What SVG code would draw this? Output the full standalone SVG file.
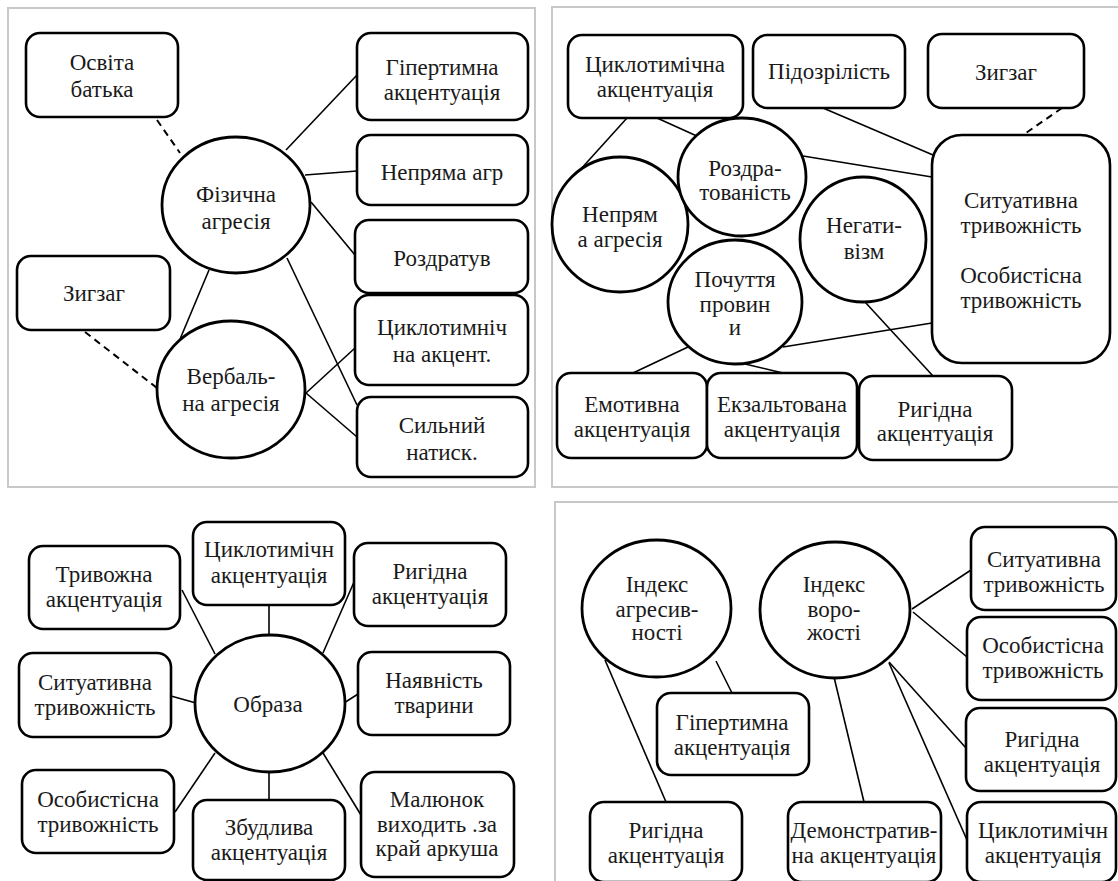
<svg xmlns="http://www.w3.org/2000/svg" width="1118" height="881" viewBox="0 0 1118 881">
<style>
.frame{fill:none;stroke:#c8c8c8;stroke-width:2}
.box{fill:#fff;stroke:#000;stroke-width:2.6}
.ell{fill:#fff;stroke:#000;stroke-width:2.8}
.ln{stroke:#000;stroke-width:1.6;fill:none}
.dash{stroke:#000;stroke-width:2;fill:none;stroke-dasharray:7 5}
.t{font-family:'Liberation Serif','Tinos','Times New Roman','DejaVu Serif',serif;font-size:23px;fill:#1a1a1a;text-anchor:middle}
</style>
<rect width="1118" height="881" fill="#fff"/>
<g id="frames">
<rect class="frame" x="8" y="8" width="527" height="479"/>
<rect class="frame" x="552" y="7" width="580" height="480"/>
<rect class="frame" x="555" y="502" width="580" height="400"/>
</g>
<g id="connectors">
<line class="dash" x1="157" y1="120" x2="180" y2="153"/>
<line class="dash" x1="85" y1="332" x2="157" y2="388"/>
<line class="ln" x1="209" y1="270" x2="178" y2="344"/>
<line class="ln" x1="286" y1="150" x2="357" y2="75"/>
<line class="ln" x1="305" y1="175" x2="357" y2="171"/>
<line class="ln" x1="311" y1="202" x2="355" y2="255"/>
<line class="ln" x1="287" y1="258" x2="357" y2="405"/>
<line class="ln" x1="306" y1="393" x2="355" y2="348"/>
<line class="ln" x1="306" y1="393" x2="357" y2="437"/>
<line class="ln" x1="627" y1="118" x2="580" y2="170"/>
<line class="ln" x1="657" y1="118" x2="699" y2="137"/>
<line class="ln" x1="823" y1="108" x2="933" y2="155"/>
<line class="ln" x1="803" y1="156" x2="932" y2="177"/>
<line class="dash" x1="1062" y1="108" x2="1023" y2="135"/>
<line class="ln" x1="783" y1="347" x2="932" y2="323"/>
<line class="ln" x1="865" y1="302" x2="933" y2="376"/>
<line class="ln" x1="688" y1="347" x2="633" y2="373"/>
<line class="ln" x1="745" y1="364" x2="783" y2="373"/>
<line class="ln" x1="269" y1="605" x2="269" y2="636"/>
<line class="ln" x1="182" y1="590" x2="215" y2="654"/>
<line class="ln" x1="354" y1="582" x2="323" y2="653"/>
<line class="ln" x1="171" y1="696" x2="196" y2="703"/>
<line class="ln" x1="358" y1="694" x2="344" y2="703"/>
<line class="ln" x1="175" y1="812" x2="215" y2="753"/>
<line class="ln" x1="269" y1="771" x2="269" y2="800"/>
<line class="ln" x1="323" y1="753" x2="361" y2="815"/>
<line class="ln" x1="605" y1="660" x2="666" y2="802"/>
<line class="ln" x1="716" y1="661" x2="732" y2="693"/>
<line class="ln" x1="912" y1="609" x2="971" y2="570"/>
<line class="ln" x1="913" y1="612" x2="967" y2="657"/>
<line class="ln" x1="834" y1="677" x2="864" y2="802"/>
<line class="ln" x1="889" y1="662" x2="966" y2="748"/>
<line class="ln" x1="889" y1="663" x2="967" y2="840"/>
</g>
<g id="n-osvita"><rect class="box" x="26" y="33" width="152" height="84" rx="14"/><text class="t" x="102" y="70">Освіта</text><text class="t" x="102" y="97">батька</text></g>
<g id="n-zyhzah1"><rect class="box" x="17" y="256" width="153" height="74" rx="14"/><text class="t" x="94" y="301">Зигзаг</text></g>
<g id="n-fizychna"><ellipse class="ell" cx="236" cy="205" rx="74" ry="68"/><text class="t" x="236" y="202">Фізична</text><text class="t" x="236" y="229">агресія</text></g>
<g id="n-verbalna"><ellipse class="ell" cx="231" cy="389.5" rx="74" ry="68.5"/><text class="t" x="231" y="384">Вербаль-</text><text class="t" x="231" y="411">на агресія</text></g>
<g id="n-hipert1"><rect class="box" x="357" y="33" width="171" height="87" rx="14"/><text class="t" x="442" y="75">Гіпертимна</text><text class="t" x="442" y="100">акцентуація</text></g>
<g id="n-nepriama"><rect class="box" x="357" y="135" width="171" height="70" rx="14"/><text class="t" x="442" y="180">Непряма агр</text></g>
<g id="n-rozdratuv"><rect class="box" x="355" y="220" width="173" height="73" rx="14"/><text class="t" x="442" y="266">Роздратув</text></g>
<g id="n-cykl1"><rect class="box" x="355" y="295" width="173" height="90" rx="14"/><text class="t" x="442" y="335">Циклотимніч</text><text class="t" x="442" y="362">на акцент.</text></g>
<g id="n-sylnyi"><rect class="box" x="357" y="397" width="171" height="80" rx="14"/><text class="t" x="442" y="433">Сильний</text><text class="t" x="442" y="460">натиск.</text></g>
<g id="n-cykl2"><rect class="box" x="568" y="35" width="175" height="83" rx="14"/><text class="t" x="655" y="72">Циклотимічна</text><text class="t" x="655" y="97">акцентуація</text></g>
<g id="n-pidozr"><rect class="box" x="753" y="35" width="152" height="73" rx="14"/><text class="t" x="829" y="79">Підозрілість</text></g>
<g id="n-zyhzah2"><rect class="box" x="928" y="34" width="156" height="74" rx="14"/><text class="t" x="1006" y="80">Зигзаг</text></g>
<g id="n-tryvozh"><rect class="box" x="932" y="135" width="178" height="228" rx="30"/><text class="t" x="1021" y="208">Ситуативна</text><text class="t" x="1021" y="233">тривожність</text><text class="t" x="1021" y="283">Особистісна</text><text class="t" x="1021" y="308">тривожність</text></g>
<g id="n-nepriam"><ellipse class="ell" cx="620" cy="224.5" rx="68" ry="67.5"/><text class="t" x="620" y="222">Непрям</text><text class="t" x="620" y="247">а агресія</text></g>
<g id="n-rozdrat"><ellipse class="ell" cx="742" cy="177" rx="64" ry="59"/><text class="t" x="745" y="176">Роздра-</text><text class="t" x="745" y="200">тованість</text></g>
<g id="n-negat"><ellipse class="ell" cx="863" cy="239.5" rx="63" ry="62.5"/><text class="t" x="864" y="233">Негати-</text><text class="t" x="864" y="259">візм</text></g>
<g id="n-pochuttia"><ellipse class="ell" cx="735" cy="302" rx="67" ry="62"/><text class="t" x="735" y="287">Почуття</text><text class="t" x="735" y="312">провин</text><text class="t" x="735" y="335">и</text></g>
<g id="n-emot"><rect class="box" x="557" y="373" width="150" height="85" rx="14"/><text class="t" x="632" y="412">Емотивна</text><text class="t" x="632" y="437">акцентуація</text></g>
<g id="n-ekzalt"><rect class="box" x="707" y="373" width="150" height="85" rx="14"/><text class="t" x="782" y="412">Екзальтована</text><text class="t" x="782" y="437">акцентуація</text></g>
<g id="n-rygid1"><rect class="box" x="859" y="376" width="153" height="84" rx="14"/><text class="t" x="935" y="417">Ригідна</text><text class="t" x="935" y="441">акцентуація</text></g>
<g id="n-cykl3"><rect class="box" x="193" y="522" width="152" height="83" rx="14"/><text class="t" x="269" y="557">Циклотимічн</text><text class="t" x="269" y="583">акцентуація</text></g>
<g id="n-tryvozhna"><rect class="box" x="29" y="546" width="151" height="83" rx="14"/><text class="t" x="104" y="582">Тривожна</text><text class="t" x="104" y="607">акцентуація</text></g>
<g id="n-rygid2"><rect class="box" x="354" y="543" width="152" height="83" rx="14"/><text class="t" x="430" y="579">Ригідна</text><text class="t" x="430" y="604">акцентуація</text></g>
<g id="n-sytu2"><rect class="box" x="19" y="653" width="152" height="84" rx="14"/><text class="t" x="95" y="690">Ситуативна</text><text class="t" x="95" y="715">тривожність</text></g>
<g id="n-nayav"><rect class="box" x="358" y="652" width="152" height="83" rx="14"/><text class="t" x="434" y="688">Наявність</text><text class="t" x="434" y="713">тварини</text></g>
<g id="n-osob2"><rect class="box" x="22" y="770" width="152" height="83" rx="14"/><text class="t" x="98" y="807">Особистісна</text><text class="t" x="98" y="832">тривожність</text></g>
<g id="n-zbud"><rect class="box" x="193" y="800" width="152" height="80" rx="14"/><text class="t" x="269" y="835">Збудлива</text><text class="t" x="269" y="860">акцентуація</text></g>
<g id="n-maliunok"><rect class="box" x="361" y="772" width="153" height="105" rx="14"/><text class="t" x="437" y="807">Малюнок</text><text class="t" x="437" y="832">виходить .за</text><text class="t" x="437" y="856">край аркуша</text></g>
<g id="n-obraza"><ellipse class="ell" cx="270" cy="703.5" rx="75" ry="68.5"/><text class="t" x="268" y="712">Образа</text></g>
<g id="n-ind-agr"><ellipse class="ell" cx="656.5" cy="608.5" rx="74.5" ry="68.5"/><text class="t" x="657" y="592">Індекс</text><text class="t" x="657" y="617">агресив-</text><text class="t" x="657" y="640">ності</text></g>
<g id="n-ind-vor"><ellipse class="ell" cx="835" cy="610" rx="75" ry="68"/><text class="t" x="834" y="592">Індекс</text><text class="t" x="834" y="617">воро-</text><text class="t" x="834" y="640">жості</text></g>
<g id="n-sytu3"><rect class="box" x="971" y="527" width="145" height="83" rx="14"/><text class="t" x="1044" y="567">Ситуативна</text><text class="t" x="1044" y="592">тривожність</text></g>
<g id="n-osob3"><rect class="box" x="967" y="617" width="149" height="83" rx="14"/><text class="t" x="1043" y="653">Особистісна</text><text class="t" x="1043" y="678">тривожність</text></g>
<g id="n-rygid3"><rect class="box" x="966" y="708" width="150" height="83" rx="14"/><text class="t" x="1042" y="747">Ригідна</text><text class="t" x="1042" y="772">акцентуація</text></g>
<g id="n-cykl4"><rect class="box" x="967" y="802" width="149" height="80" rx="14"/><text class="t" x="1043" y="838">Циклотимічн</text><text class="t" x="1043" y="863">акцентуація</text></g>
<g id="n-hipert2"><rect class="box" x="657" y="693" width="152" height="82" rx="14"/><text class="t" x="732" y="730">Гіпертимна</text><text class="t" x="732" y="755">акцентуація</text></g>
<g id="n-rygid4"><rect class="box" x="590" y="802" width="152" height="80" rx="14"/><text class="t" x="666" y="838">Ригідна</text><text class="t" x="666" y="863">акцентуація</text></g>
<g id="n-demo"><rect class="box" x="788" y="802" width="153" height="80" rx="14"/><text class="t" x="864" y="838">Демонстратив-</text><text class="t" x="864" y="863">на акцентуація</text></g>
</svg>
